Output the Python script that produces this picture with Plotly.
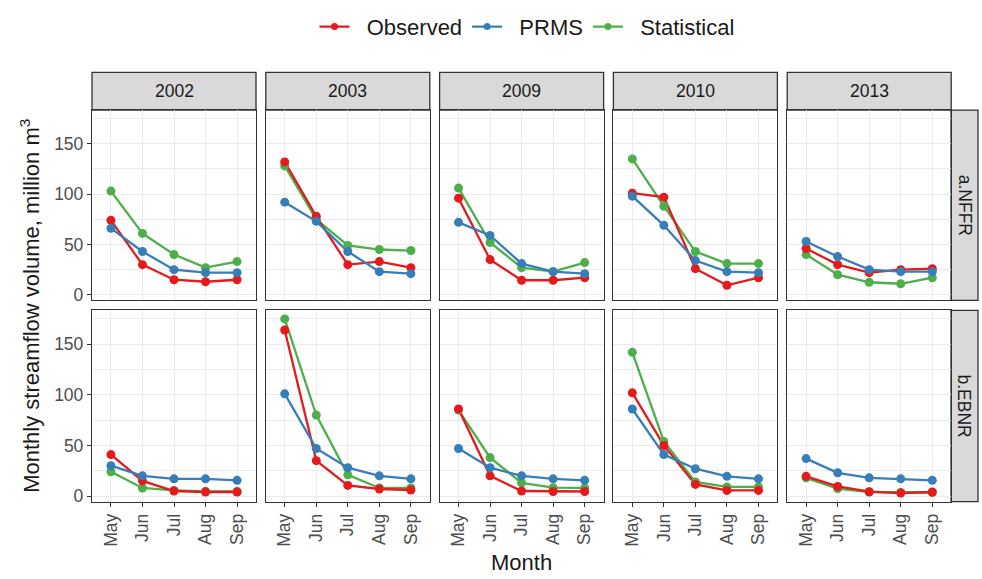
import plotly.graph_objects as go

# ---- data ----
months = ["May", "Jun", "Jul", "Aug", "Sep"]
years = ["2002", "2003", "2009", "2010", "2013"]
sites = ["a.NFFR", "b.EBNR"]
series_names = ["Observed", "PRMS", "Statistical"]
series_colors = ["#E41A1C", "#377EB8", "#4DAF4A"]

# rows: years 2002, 2003, 2009, 2010, 2013 ; columns: May..Sep
nffr_observed = [
    [74, 30, 15, 13, 15],
    [132, 78, 30, 33, 27],
    [96, 35, 14.5, 14.5, 17],
    [101, 97, 26, 9.5, 17],
    [46, 30, 22, 25, 26],
]
nffr_prms = [
    [66, 43, 25, 22, 22],
    [92, 73, 43, 23, 21],
    [72, 59, 31, 23, 21],
    [98, 69, 34, 23, 22],
    [53, 38, 25, 23, 23],
]
nffr_statistical = [
    [103, 61, 40, 27, 33],
    [128, 75, 49, 45, 44],
    [106, 52, 27, 23, 32],
    [135, 88, 43, 31, 31],
    [40, 20, 12.5, 11, 17],
]
ebnr_observed = [
    [41, 15, 5, 4, 4],
    [164, 35, 10.5, 7, 6],
    [86, 20, 5, 4.5, 4.5],
    [102, 50, 11.5, 5.6, 5.6],
    [19.5, 9.5, 4.3, 3, 4],
]
ebnr_prms = [
    [30, 20, 17, 17, 15.5],
    [101, 47, 28, 20, 17],
    [47, 28, 20, 17, 15.5],
    [86, 41, 27, 19.5, 17],
    [37, 23, 18, 17, 15.5],
]
ebnr_statistical = [
    [24, 8, 5.6, 4.7, 4.7],
    [175, 80, 21, 8, 8],
    [85, 38, 13, 8.3, 8],
    [142, 54, 14, 9, 9],
    [18, 7.3, 4, 3.5, 3.5],
]
y_ticks = [0, 50, 100, 150]

site_data = [
    [nffr_observed, nffr_prms, nffr_statistical],
    [ebnr_observed, ebnr_prms, ebnr_statistical],
]

# ---- layout geometry (pixels) ----
W, H = 982, 579
FONT = "Liberation Sans, Arial, sans-serif"
col_x0 = [92 + i * 173.8 for i in range(5)]
col_w = 164
row_y = [(111, 303), (313, 506)]
strip_top = 73
strip_right = (951, 978)

def fx(px):
    return px / W

def fy(py):
    return 1 - py / H

fig = go.Figure()
draw_order = [2, 0, 1]  # Statistical, Observed, PRMS

layout = dict(
    width=W, height=H, margin=dict(l=0, r=0, t=0, b=0),
    paper_bgcolor="white", plot_bgcolor="white",
    font=dict(family=FONT, color="#1A1A1A"),
    showlegend=True,
)
shapes = []
annotations = []

for r in range(2):
    for c in range(5):
        k = r * 5 + c + 1
        xa = "x" if k == 1 else f"x{k}"
        ya = "y" if k == 1 else f"y{k}"
        xkey = "xaxis" if k == 1 else f"xaxis{k}"
        ykey = "yaxis" if k == 1 else f"yaxis{k}"
        x0 = col_x0[c]
        x1 = x0 + col_w
        y0, y1 = row_y[r]
        layout[xkey] = dict(
            domain=[fx(x0), fx(x1)], anchor=ya,
            range=[-0.6, 4.6], tickmode="array",
            tickvals=list(range(len(months))), ticktext=months,
            showticklabels=(r == 1), tickangle=-90,
            ticks="outside" if r == 1 else "", ticklen=4, tickwidth=1.1, tickcolor="#333333",
            tickfont=dict(size=17.5, color="#4D4D4D", family=FONT),
            showgrid=True, gridcolor="#EBEBEB", gridwidth=1.1,
            showline=True, mirror=True, linecolor="#333333", linewidth=1.3,
            zeroline=False, fixedrange=True,
        )
        layout[ykey] = dict(
            domain=[fy(y1), fy(y0)], anchor=xa,
            range=[-5.5, 183.5], tickmode="array", tickvals=y_ticks,
            showticklabels=(c == 0),
            ticks="outside" if c == 0 else "", ticklen=4, tickwidth=1.1, tickcolor="#333333",
            tickfont=dict(size=17.5, color="#4D4D4D", family=FONT),
            showgrid=True, gridcolor="#EBEBEB", gridwidth=1.1,
            minor=dict(tickvals=[25, 75, 125, 175], showgrid=True,
                       gridcolor="#EBEBEB", gridwidth=0.55, ticks=""),
            showline=True, mirror=True, linecolor="#333333", linewidth=1.3,
            zeroline=False, fixedrange=True,
        )
        # line layer
        for s in draw_order:
            vals = site_data[r][s][c]
            fig.add_trace(go.Scatter(
                x=list(range(len(months))), y=vals, xaxis=xa, yaxis=ya,
                mode="lines+markers" if k == 1 else "lines",
                line=dict(color=series_colors[s], width=2.3),
                marker=dict(color=series_colors[s], size=7),
                name="\u00a0\u00a0" + series_names[s], legendgroup=series_names[s],
                showlegend=(k == 1), legendrank=s + 1,
                hoverinfo="skip",
            ))
    # right strip
    y0, y1 = row_y[r]
    shapes.append(dict(type="rect", xref="paper", yref="paper",
                       x0=fx(strip_right[0]), x1=fx(strip_right[1]),
                       y0=fy(y1), y1=fy(y0), fillcolor="#D9D9D9",
                       line=dict(color="#333333", width=1.3), layer="below"))
    annotations.append(dict(text=sites[r], xref="paper", yref="paper",
                            x=fx((strip_right[0] + strip_right[1]) / 2),
                            y=fy((y0 + y1) / 2), showarrow=False, textangle=90,
                            font=dict(size=17.5, color="#1A1A1A", family=FONT),
                            xanchor="center", yanchor="middle"))

# point layer on top
for r in range(2):
    for c in range(5):
        k = r * 5 + c + 1
        xa = "x" if k == 1 else f"x{k}"
        ya = "y" if k == 1 else f"y{k}"
        for s in draw_order:
            vals = site_data[r][s][c]
            fig.add_trace(go.Scatter(
                x=list(range(len(months))), y=vals, xaxis=xa, yaxis=ya,
                mode="markers", marker=dict(color=series_colors[s], size=9),
                showlegend=False, hoverinfo="skip",
            ))

# column strips
for c in range(5):
    x0 = col_x0[c]
    x1 = x0 + col_w
    shapes.append(dict(type="rect", xref="paper", yref="paper",
                       x0=fx(x0), x1=fx(x1), y0=fy(row_y[0][0]), y1=fy(strip_top),
                       fillcolor="#D9D9D9", line=dict(color="#333333", width=1.3),
                       layer="below"))
    annotations.append(dict(text=years[c], xref="paper", yref="paper",
                            x=fx((x0 + x1) / 2), y=fy((strip_top + row_y[0][0]) / 2),
                            showarrow=False,
                            font=dict(size=17.5, color="#1A1A1A", family=FONT),
                            xanchor="center", yanchor="middle"))

# axis titles
annotations.append(dict(text="Month", xref="paper", yref="paper",
                        x=fx((col_x0[0] + col_x0[4] + col_w) / 2), y=fy(567),
                        showarrow=False, font=dict(size=22, color="#1A1A1A", family=FONT),
                        xanchor="center", yanchor="middle"))
annotations.append(dict(text="Monthly streamflow volume, million m<sup>3</sup>",
                        xref="paper", yref="paper", x=fx(30),
                        y=fy((row_y[0][0] + row_y[1][1]) / 2), showarrow=False,
                        textangle=-90, font=dict(size=22, color="#1A1A1A", family=FONT),
                        xanchor="center", yanchor="middle"))

layout["shapes"] = shapes
layout["annotations"] = annotations
layout["legend"] = dict(orientation="h", x=fx(527), xanchor="center",
                        y=fy(27), yanchor="middle",
                        font=dict(size=22, color="#1A1A1A", family=FONT),
                        itemwidth=30, bgcolor="rgba(0,0,0,0)", traceorder="normal")
fig.update_layout(**layout)
fig.write_html("out.html")
